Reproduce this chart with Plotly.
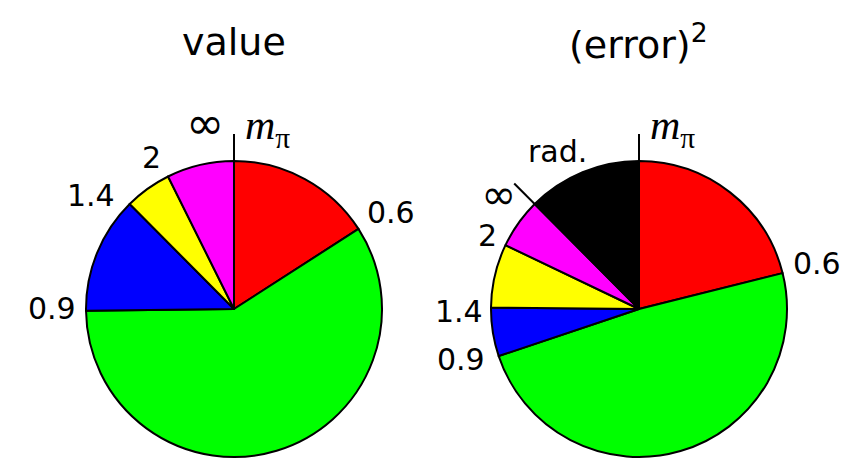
import math
import plotly.graph_objects as go

W, H = 848, 462

# Share of each contribution (percent), listed clockwise from 12 o'clock
value_labels = ["0.6", "0.9", "1.4", "2", "inf"]
value_shares = [15.9, 58.9, 12.75, 5.1, 7.35]
value_colors = ["#ff0000", "#00ff00", "#0000ff", "#ffff00", "#ff00ff"]

error_labels = ["0.6", "0.9", "1.4", "2", "inf", "rad."]
error_shares = [21.1, 48.75, 5.3, 6.95, 5.45, 12.45]
error_colors = ["#ff0000", "#00ff00", "#0000ff", "#ffff00", "#ff00ff", "#000000"]

titles = ["value", "(error)<sup>2</sup>"]

# Pie geometry in pixels: centre x, centre y, radius
PIES = [(234, 309, 148), (639, 309, 148)]


def px(x):
    return x / W


def py(y):
    return 1 - y / H


def domain(cx, cy, r):
    return dict(x=[px(cx - r), px(cx + r)], y=[py(cy + r), py(cy - r)])


fig = go.Figure()
for (cx, cy, r), labels, vals, cols in [
    (PIES[0], value_labels, value_shares, value_colors),
    (PIES[1], error_labels, error_shares, error_colors),
]:
    fig.add_trace(go.Pie(
        labels=labels, values=vals, sort=False, direction="clockwise",
        rotation=0, textinfo="none", hoverinfo="label+percent",
        marker=dict(colors=cols, line=dict(color="black", width=2)),
        domain=domain(cx, cy, r), showlegend=False,
    ))

shapes = []
# vertical tick at 12 o'clock above each pie
for cx, cy, r in PIES:
    shapes.append(dict(type="line", xref="paper", yref="paper",
                       x0=px(cx), x1=px(cx), y0=py(cy - r), y1=py(cy - r - 27),
                       line=dict(color="black", width=2)))

# tick marking where the radiative share begins on the error pie
cx, cy, r = PIES[1]
frac = 1 - error_shares[-1] / sum(error_shares)
ang = 2 * math.pi * frac
dx, dy = math.sin(ang), -math.cos(ang)
shapes.append(dict(type="line", xref="paper", yref="paper",
                   x0=px(cx + dx * r), y0=py(cy + dy * r),
                   x1=px(cx + dx * (r + 29)), y1=py(cy + dy * (r + 29)),
                   line=dict(color="black", width=2)))

SANS = "DejaVu Sans"
SERIF = "Liberation Serif"
annotations = []


def add_text(text, x, y, size=30, family=SANS, xanchor="center"):
    annotations.append(dict(text=text, x=px(x), y=py(y), xref="paper", yref="paper",
                            showarrow=False, xanchor=xanchor, yanchor="middle",
                            font=dict(family=family, size=size, color="black")))


add_text(titles[0], 234, 42, size=38)
add_text(titles[1], 638, 42, size=38)

mpi = "<i>m</i><sub>π</sub>"
# labels around the value pie
add_text("∞", 205, 123, size=46)
add_text(mpi, 243, 128, size=42, family=SERIF, xanchor="left")
add_text("2", 151, 157)
add_text("1.4", 91, 195)
add_text("0.9", 52, 308)
add_text("0.6", 391, 212)
# labels around the error pie
add_text(mpi, 648, 128, size=42, family=SERIF, xanchor="left")
add_text("rad.", 557, 151)
add_text("∞", 498, 194, size=42)
add_text("2", 487, 235)
add_text("1.4", 459, 311)
add_text("0.9", 461, 359)
add_text("0.6", 817, 263)

fig.update_layout(
    width=W, height=H, margin=dict(l=0, r=0, t=0, b=0),
    paper_bgcolor="white", plot_bgcolor="white",
    shapes=shapes, annotations=annotations,
)
fig.write_html("out.html")
